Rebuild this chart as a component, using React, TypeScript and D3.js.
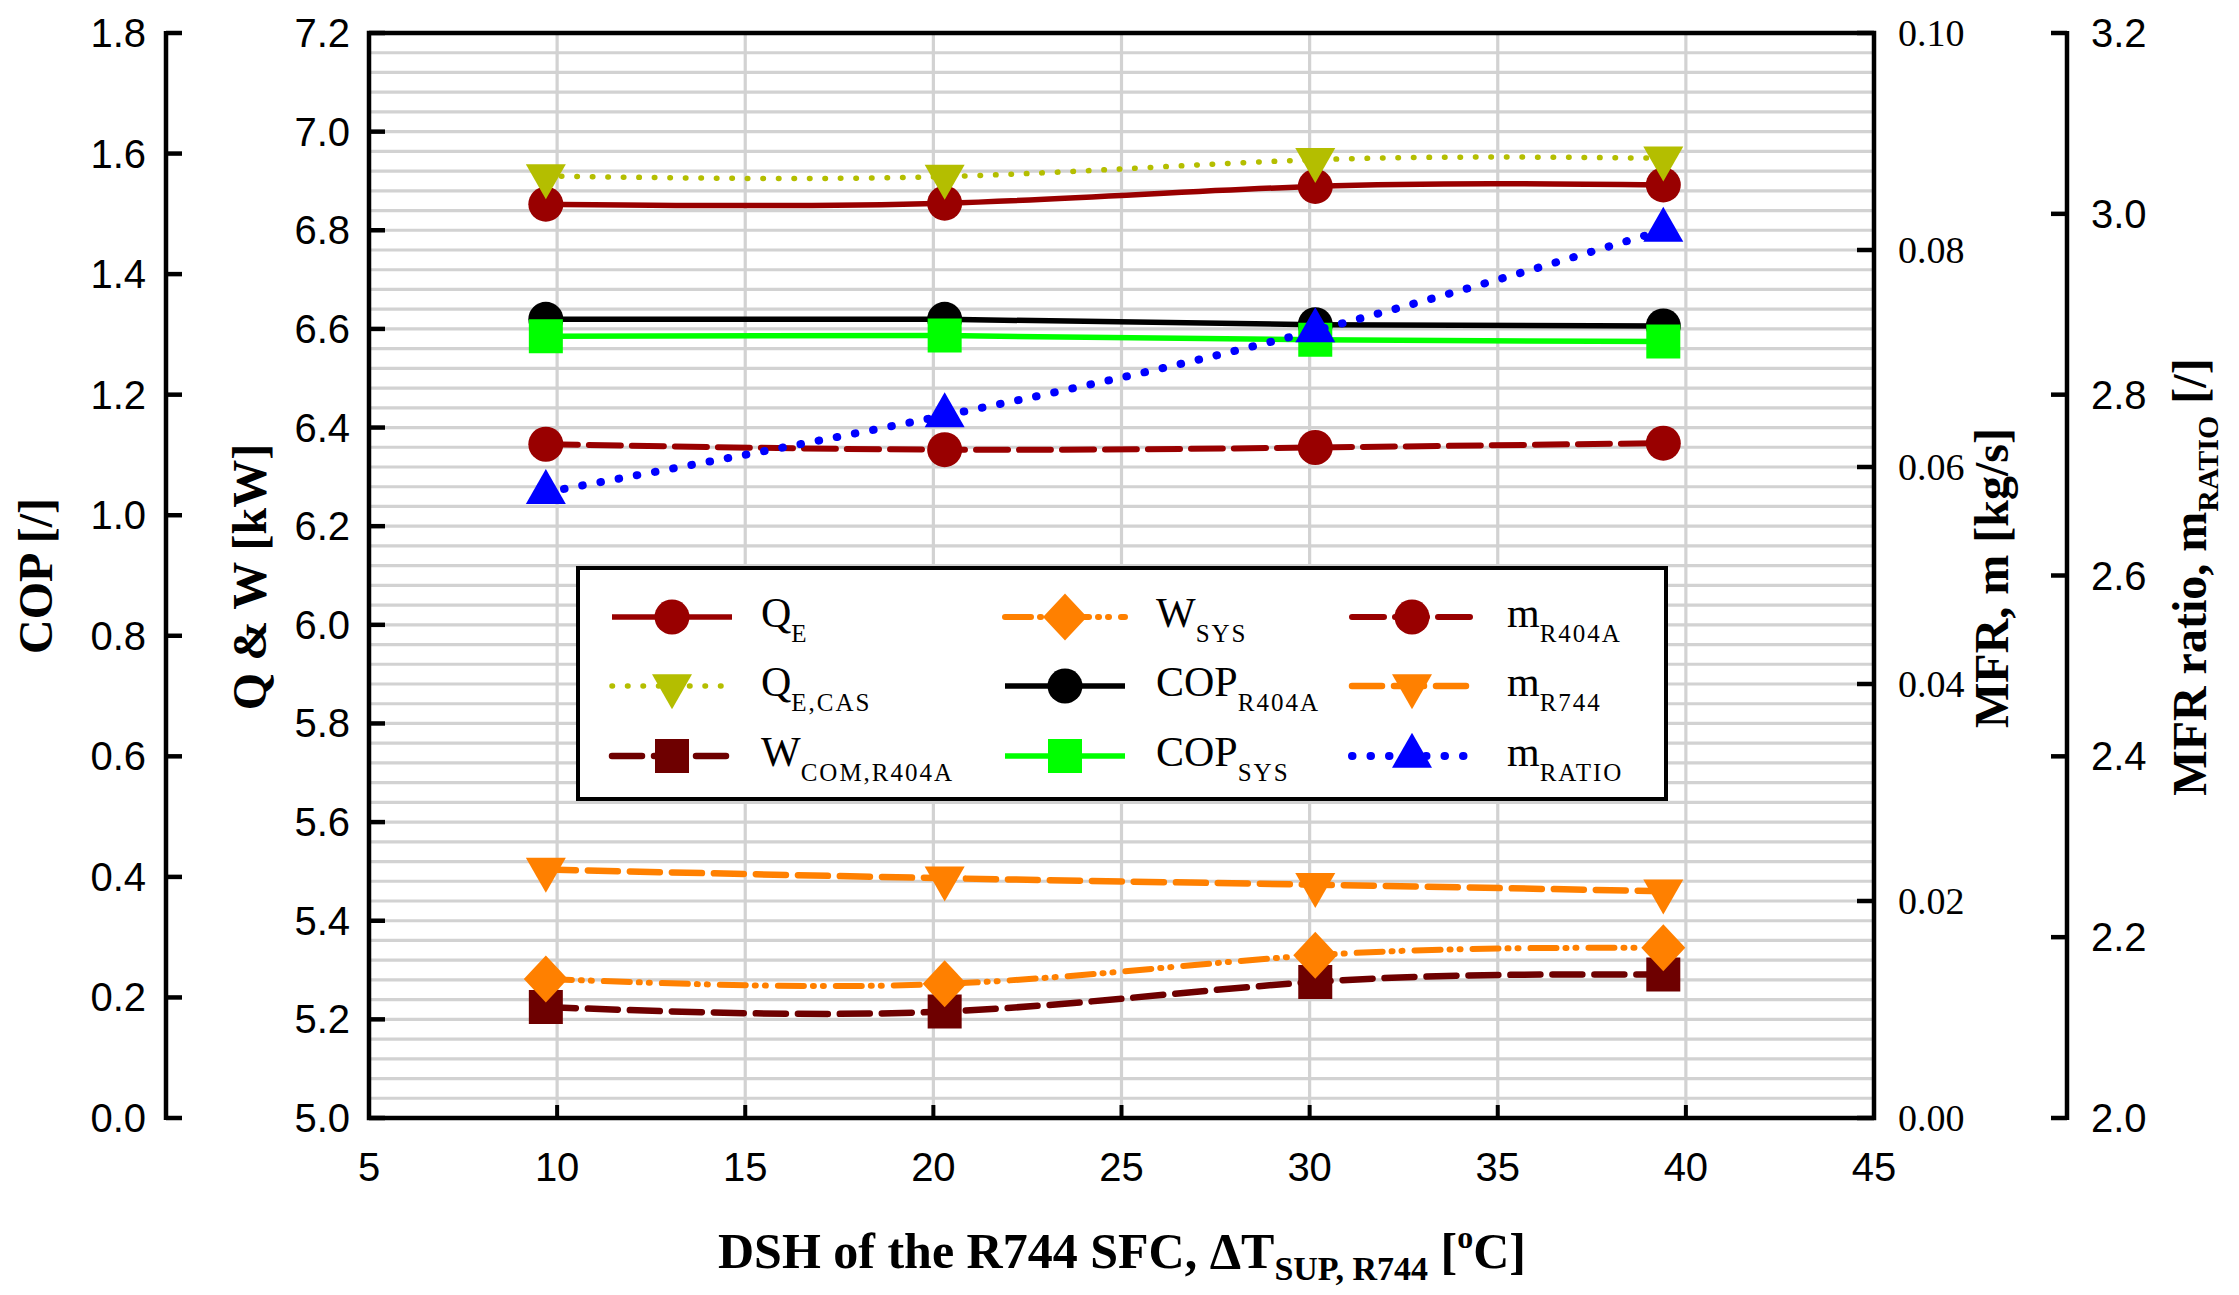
import React from 'react';
import * as d3 from 'd3';

// DSH of the R744 SFC [°C]
const dsh = [9.7, 20.3, 30.15, 39.4];

// Q & W axis [kW]
const qE = [6.853, 6.855, 6.889, 6.892];
const qECas = [6.91, 6.909, 6.943, 6.946];
const wComR404a = [5.225, 5.216, 5.276, 5.291];
const wSys = [5.282, 5.272, 5.33, 5.345];
// COP axis [/]
const copR404a = [1.325, 1.325, 1.316, 1.314];
const copSys = [1.297, 1.298, 1.291, 1.288];
// MFR axis [kg/s]
const mR404a = [0.0621, 0.0616, 0.0618, 0.0622];
const mR744 = [0.0229, 0.0221, 0.0215, 0.0209];
// MFR ratio axis [/]
const mRatio = [2.692, 2.777, 2.871, 2.982];

const xTicks = [5, 10, 15, 20, 25, 30, 35, 40, 45];
const qwTicks = [5.0, 5.2, 5.4, 5.6, 5.8, 6.0, 6.2, 6.4, 6.6, 6.8, 7.0, 7.2];
const copTicks = [0.0, 0.2, 0.4, 0.6, 0.8, 1.0, 1.2, 1.4, 1.6, 1.8];
const mfrTicks = [0.0, 0.02, 0.04, 0.06, 0.08, 0.1];
const ratioTicks = [2.0, 2.2, 2.4, 2.6, 2.8, 3.0, 3.2];

const W = 2239;
const H = 1295;
const L = 369;
const R = 1874;
const T = 33;
const B = 1118;

const x = d3.scaleLinear().domain([5, 45]).range([L, R]);
const yQW = d3.scaleLinear().domain([5, 7.2]).range([B, T]);
const yCOP = d3.scaleLinear().domain([0, 1.8]).range([B, T]);
const yMFR = d3.scaleLinear().domain([0, 0.1]).range([B, T]);
const yRatio = d3.scaleLinear().domain([2.0, 3.2]).range([B, T]);

const DARKRED = '#990000';
const MAROON = '#6e0000';
const OLIVE = '#b4be00';
const ORANGE = '#ff8000';
const GREEN = '#00ff00';
const BLUE = '#0000ff';

type Marker = 'circle' | 'triUp' | 'triDown' | 'square' | 'diamond';

interface Series {
  main: string;
  sub: string;
  values: number[];
  y: d3.ScaleLinear<number, number>;
  color: string;
  width: number;
  dash: string | null;
  cap: 'round' | 'butt';
  marker: Marker;
}

const series: Series[] = [
  { main: 'Q', sub: 'E', values: qE, y: yQW, color: DARKRED, width: 5.5, dash: null, cap: 'butt', marker: 'circle' },
  { main: 'Q', sub: 'E,CAS', values: qECas, y: yQW, color: OLIVE, width: 5.5, dash: '0.5,15', cap: 'round', marker: 'triDown' },
  { main: 'W', sub: 'COM,R404A', values: wComR404a, y: yQW, color: MAROON, width: 6.5, dash: '30,12', cap: 'round', marker: 'square' },
  { main: 'W', sub: 'SYS', values: wSys, y: yQW, color: ORANGE, width: 6, dash: '26,9,1,9,1,12', cap: 'round', marker: 'diamond' },
  { main: 'COP', sub: 'R404A', values: copR404a, y: yCOP, color: '#000000', width: 5.5, dash: null, cap: 'butt', marker: 'circle' },
  { main: 'COP', sub: 'SYS', values: copSys, y: yCOP, color: GREEN, width: 5.5, dash: null, cap: 'butt', marker: 'square' },
  { main: 'm', sub: 'R404A', values: mR404a, y: yMFR, color: DARKRED, width: 6, dash: '32,11', cap: 'round', marker: 'circle' },
  { main: 'm', sub: 'R744', values: mR744, y: yMFR, color: ORANGE, width: 6.5, dash: '30,12', cap: 'round', marker: 'triDown' },
  { main: 'm', sub: 'RATIO', values: mRatio, y: yRatio, color: BLUE, width: 8, dash: '0.5,18', cap: 'round', marker: 'triUp' },
];

const markerPath = (m: Marker): string => {
  switch (m) {
    case 'triUp':
      return 'M0,-23.3L20,11.7L-20,11.7Z';
    case 'triDown':
      return 'M0,23.3L20,-11.7L-20,-11.7Z';
    case 'square':
      return 'M-17,-17L17,-17L17,17L-17,17Z';
    case 'diamond':
      return 'M0,-23.5L22,0L0,23.5L-22,0Z';
    default:
      return '';
  }
};

const MarkerShape: React.FC<{ m: Marker; cx: number; cy: number; color: string }> = ({ m, cx, cy, color }) =>
  m === 'circle' ? (
    <circle cx={cx} cy={cy} r={17.5} fill={color} />
  ) : (
    <path d={markerPath(m)} transform={`translate(${cx},${cy})`} fill={color} />
  );

const SANS = 'Arial, "Liberation Sans", sans-serif';
const SERIF = '"Times New Roman", "Liberation Serif", serif';

// legend layout: three columns, three rows
const legendCols = [
  { cx: 672, tx: 761 },
  { cx: 1065, tx: 1156 },
  { cx: 1412, tx: 1507 },
];
const legendRows = [617, 686, 756];

export default function App() {
  const hGrid = d3.range(1, 55).map((i) => 5 + i * 0.04);
  const vGrid = xTicks.slice(1, -1);

  return (
    <svg
      width={W}
      height={H}
      viewBox={`0 0 ${W} ${H}`}
      style={{ position: 'absolute', left: 0, top: 0, background: '#fff' }}
    >
      <rect x={0} y={0} width={W} height={H} fill="#fff" />

      {/* grid */}
      {hGrid.map((v) => (
        <line key={`h${v}`} x1={L} x2={R} y1={yQW(v)} y2={yQW(v)} stroke="#d2d2d2" strokeWidth={3.2} />
      ))}
      {vGrid.map((v) => (
        <line key={`v${v}`} x1={x(v)} x2={x(v)} y1={T} y2={B} stroke="#d2d2d2" strokeWidth={3.2} />
      ))}

      {/* series */}
      {series.map((s, si) => {
        const line = d3
          .line<number>()
          .x((_, i) => x(dsh[i]))
          .y((d) => s.y(d))
          .curve(d3.curveNatural);
        return (
          <g key={`s${si}`}>
            <path
              d={line(s.values) || ''}
              fill="none"
              stroke={s.color}
              strokeWidth={s.width}
              strokeDasharray={s.dash || undefined}
              strokeLinecap={s.cap}
            />
            {s.values.map((v, i) => (
              <MarkerShape key={i} m={s.marker} cx={x(dsh[i])} cy={s.y(v)} color={s.color} />
            ))}
          </g>
        );
      })}

      {/* legend */}
      <rect x={578} y={568} width={1088} height={231} fill="#fff" stroke="#000" strokeWidth={4} />
      {series.map((s, i) => {
        const col = legendCols[Math.floor(i / 3)];
        const ry = legendRows[i % 3];
        return (
          <g key={`l${i}`}>
            <line
              x1={col.cx - 60}
              x2={col.cx + 60}
              y1={ry}
              y2={ry}
              stroke={s.color}
              strokeWidth={s.width}
              strokeDasharray={s.dash || undefined}
              strokeLinecap={s.cap}
            />
            <MarkerShape m={s.marker} cx={col.cx} cy={ry} color={s.color} />
            <text x={col.tx} y={ry + 10} fontFamily={SERIF} fontSize={42}>
              {s.main}
              <tspan dy={15} fontSize={25} letterSpacing={2}>
                {s.sub}
              </tspan>
            </text>
          </g>
        );
      })}

      {/* plot frame */}
      <rect x={L} y={T} width={R - L} height={B - T} fill="none" stroke="#000" strokeWidth={4.5} />

      {/* Q & W axis (left edge of frame) */}
      {qwTicks.map((v) => (
        <g key={`qw${v}`}>
          <line x1={L} x2={L + 16} y1={yQW(v)} y2={yQW(v)} stroke="#000" strokeWidth={4.5} />
          <text x={350} y={yQW(v) + 14} textAnchor="end" fontFamily={SANS} fontSize={40}>
            {v.toFixed(1)}
          </text>
        </g>
      ))}

      {/* COP axis (offset left) */}
      <line x1={166} x2={166} y1={T - 2} y2={B + 2} stroke="#000" strokeWidth={4.5} />
      {copTicks.map((v) => (
        <g key={`cop${v}`}>
          <line x1={166} x2={182} y1={yCOP(v)} y2={yCOP(v)} stroke="#000" strokeWidth={4.5} />
          <text x={146} y={yCOP(v) + 14} textAnchor="end" fontFamily={SANS} fontSize={40}>
            {v.toFixed(1)}
          </text>
        </g>
      ))}

      {/* MFR axis (right edge of frame) */}
      {mfrTicks.map((v) => (
        <g key={`mfr${v}`}>
          <line x1={R - 17} x2={R} y1={yMFR(v)} y2={yMFR(v)} stroke="#000" strokeWidth={4.5} />
          <text x={1898} y={yMFR(v) + 13} fontFamily={SERIF} fontSize={38}>
            {v.toFixed(2)}
          </text>
        </g>
      ))}

      {/* MFR ratio axis (offset right) */}
      <line x1={2067} x2={2067} y1={T - 2} y2={B + 2} stroke="#000" strokeWidth={4.5} />
      {ratioTicks.map((v) => (
        <g key={`rat${v}`}>
          <line x1={2051} x2={2067} y1={yRatio(v)} y2={yRatio(v)} stroke="#000" strokeWidth={4.5} />
          <text x={2091} y={yRatio(v) + 14} fontFamily={SANS} fontSize={40}>
            {v.toFixed(1)}
          </text>
        </g>
      ))}

      {/* x axis */}
      {xTicks.map((v) => (
        <g key={`x${v}`}>
          <line x1={x(v)} x2={x(v)} y1={B} y2={B - 13} stroke="#000" strokeWidth={4} />
          <text x={x(v)} y={1181} textAnchor="middle" fontFamily={SANS} fontSize={40}>
            {v}
          </text>
        </g>
      ))}

      {/* axis titles */}
      <text
        transform="translate(52,576) rotate(-90)"
        textAnchor="middle"
        fontFamily={SERIF}
        fontWeight="bold"
        fontSize={48}
      >
        COP [/]
      </text>
      <text
        transform="translate(266,577) rotate(-90)"
        textAnchor="middle"
        fontFamily={SERIF}
        fontWeight="bold"
        fontSize={48}
      >
        Q &amp; W [kW]
      </text>
      <text
        transform="translate(2008,578) rotate(-90)"
        textAnchor="middle"
        fontFamily={SERIF}
        fontWeight="bold"
        fontSize={48}
      >
        MFR, m [kg/s]
      </text>
      <text
        transform="translate(2206,577) rotate(-90)"
        textAnchor="middle"
        fontFamily={SERIF}
        fontWeight="bold"
        fontSize={48}
      >
        MFR ratio, m
        <tspan dy={12} fontSize={30}>
          RATIO
        </tspan>
        <tspan dy={-12}> [/]</tspan>
      </text>
      <text x={1122} y={1268} textAnchor="middle" fontFamily={SERIF} fontWeight="bold" fontSize={50}>
        DSH of the R744 SFC, ΔT
        <tspan dy={12} fontSize={34}>
          SUP, R744
        </tspan>
        <tspan dy={-12}> [</tspan>
        <tspan dy={-20} fontSize={32}>
          o
        </tspan>
        <tspan dy={20}>C]</tspan>
      </text>
    </svg>
  );
}
